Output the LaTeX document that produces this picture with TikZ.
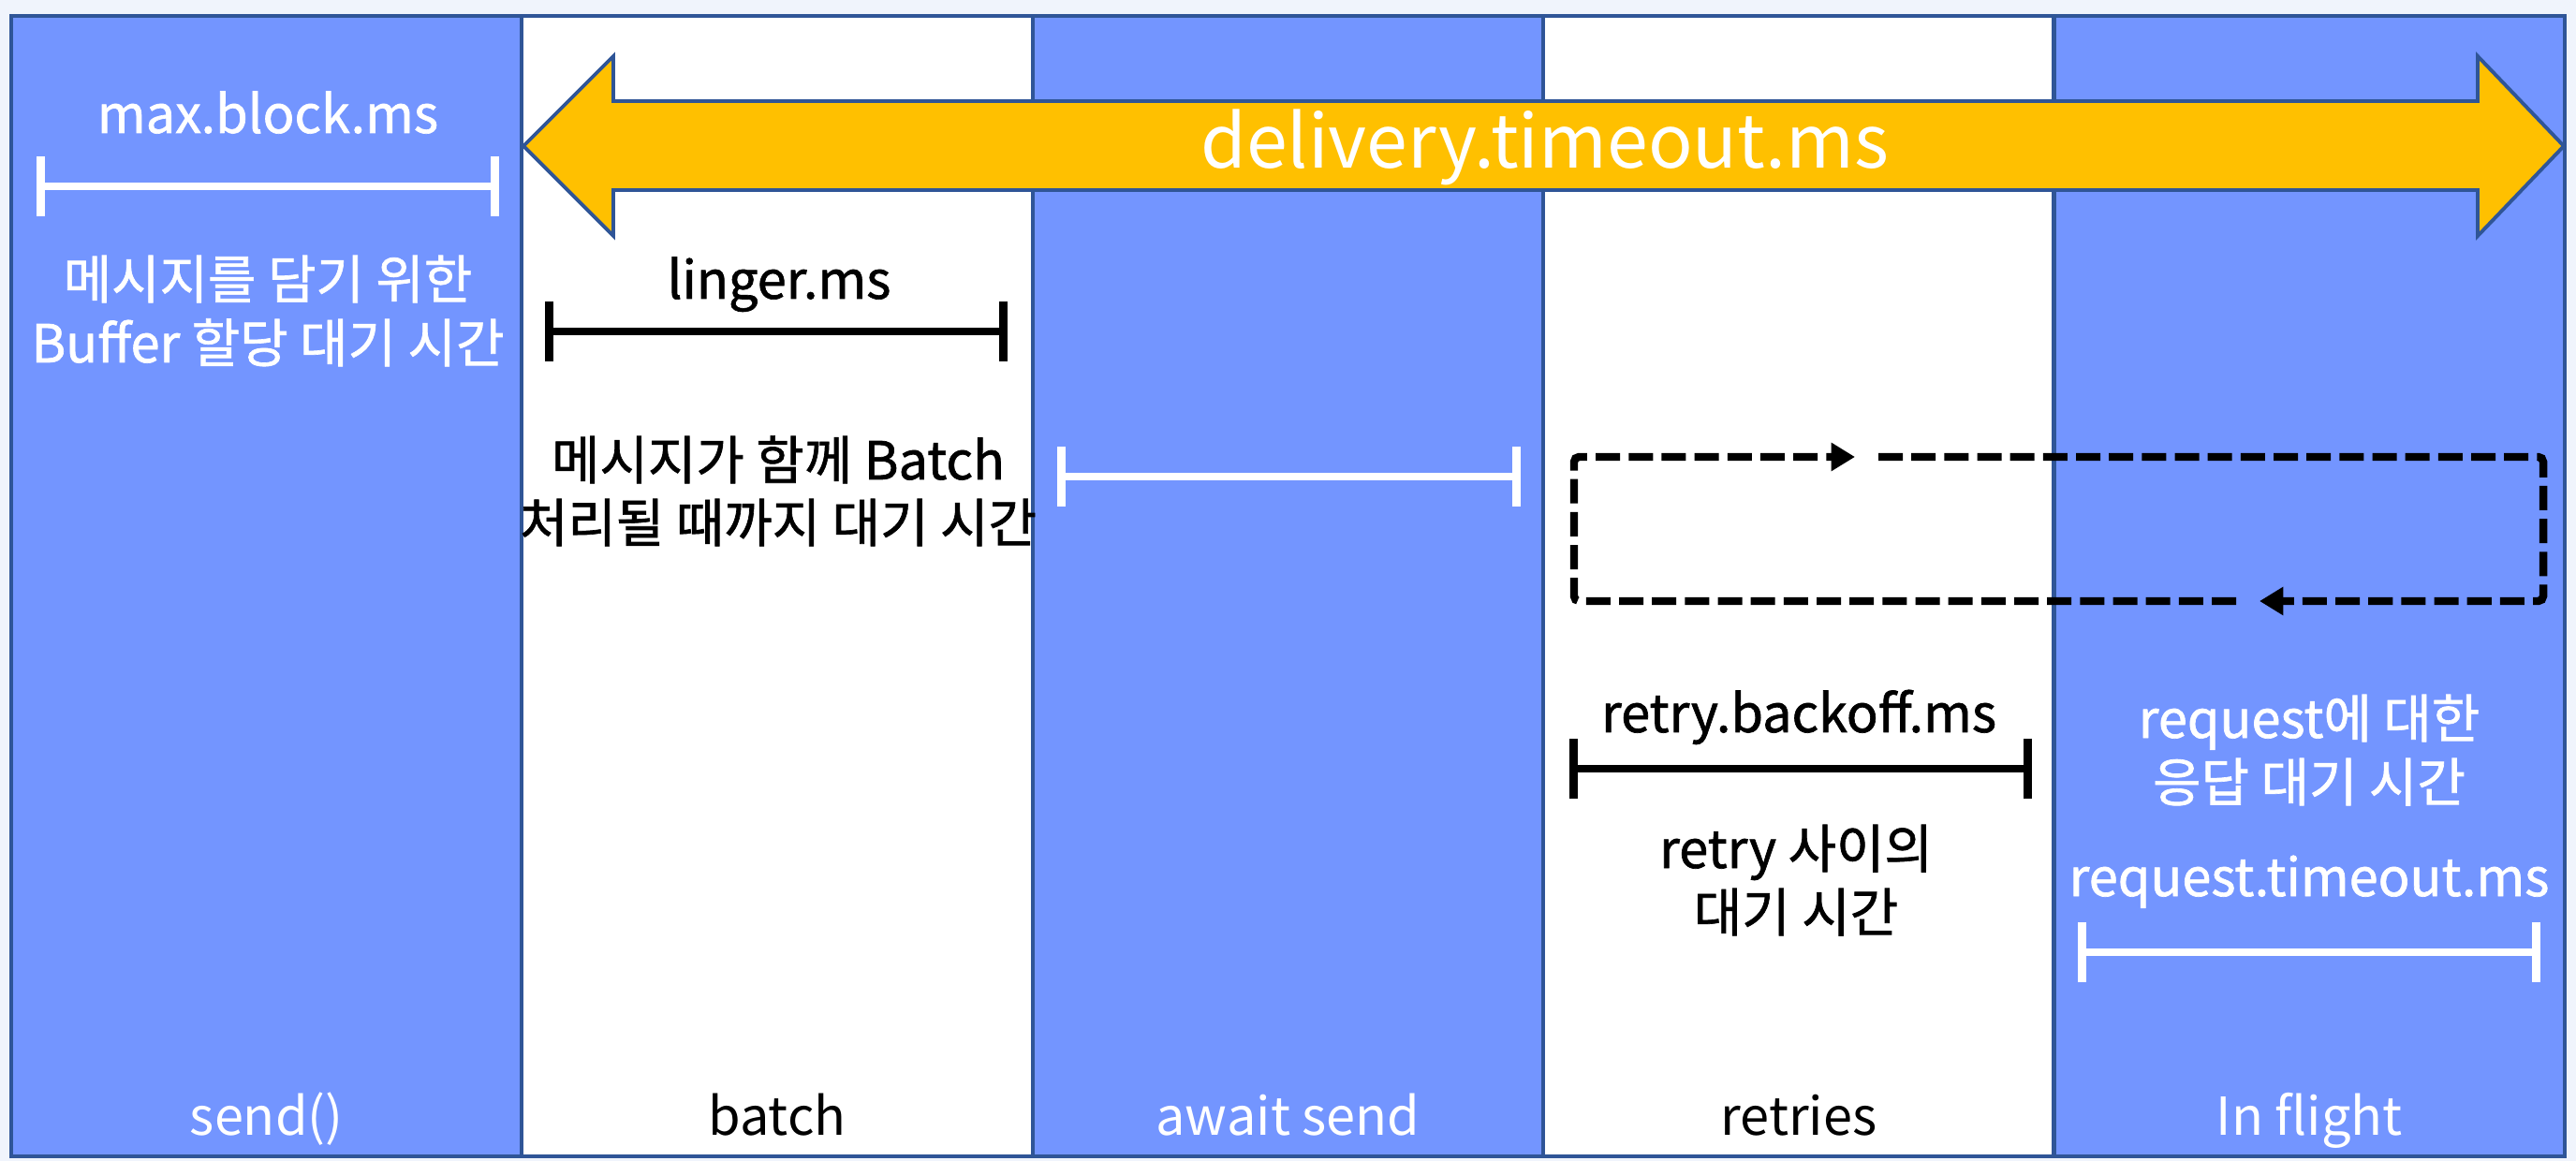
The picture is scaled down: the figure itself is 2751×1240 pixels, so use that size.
\documentclass[tikz,border=0pt]{standalone}
\usepackage{fontspec}
\setmainfont{Noto Sans CJK KR}
\newfontfamily\medfont[FakeBold=1.2]{Noto Sans CJK KR}
\usetikzlibrary{arrows.meta}
\definecolor{colblue}{HTML}{7395FF}
\definecolor{edge}{HTML}{2F5597}
\definecolor{gold}{HTML}{FFC000}
\definecolor{pagebg}{HTML}{F0F4FC}
\begin{document}
\begin{tikzpicture}[x=0.01cm,y=-0.01cm,
  colbox/.style={draw=edge, line width=1.2pt, inner sep=0pt, outer sep=0pt,
    minimum width=5.454cm, minimum height=12.18cm},
  lbl/.style={anchor=base, inner sep=0pt, font=\fontsize{15.9pt}{19pt}\selectfont},
  desc/.style={anchor=base, inner sep=0pt, font=\medfont\fontsize{15.9pt}{19pt}\selectfont},
  big/.style={anchor=base, inner sep=0pt, font=\fontsize{22.4pt}{26pt}\selectfont, text=white},
  dimbar/.style={line width=2.3pt, {Bar[width=18.2pt,line width=2.6pt]}-{Bar[width=18.2pt,line width=2.6pt]}},
  loopline/.style={line width=2.4pt, dash pattern=on 7.4pt off 2.6pt, rounded corners=1.5pt,
    -{Triangle[length=7.2pt,width=8.2pt]}}
]
% page background
\fill[pagebg] (0,0) rectangle (2751,1240);
\useasboundingbox (0,0) rectangle (2751,1240);

% columns
\node[colbox, fill=colblue] (c1) at (284.7,626) {};
\node[colbox, fill=white]   (c2) at (830.1,626) {};
\node[colbox, fill=colblue] (c3) at (1375.5,626) {};
\node[colbox, fill=white]   (c4) at (1920.9,626) {};
\node[colbox, fill=colblue] (c5) at (2466.3,626) {};

% column titles
\node[lbl, text=white] (t1) at (284.7,1212) {send()};
\node[lbl, text=black] (t2) at (830.1,1212) {batch};
\node[lbl, text=white] (t3) at (1375.5,1212) {await send};
\node[lbl, text=black] (t4) at (1920.9,1212) {retries};
\node[lbl, text=white] (t5) at (2466.3,1212) {In flight};

% delivery.timeout.ms double arrow
\draw[edge, line width=1.1pt, fill=gold, line join=miter]
  (559,156) -- (655,60) -- (655,108) -- (2646,108) -- (2646,60) -- (2738,156)
  -- (2646,252) -- (2646,203) -- (655,203) -- (655,252) -- cycle;
\node[big] (dt) at (1650,180) {delivery.timeout.ms};

% send(): max.block.ms
\node[desc, text=white] (mb) at (286,142) {max.block.ms};
\coordinate (mbL) at (39,199);
\coordinate (mbR) at (533,199);
\draw[dimbar, white] (mbL) -- (mbR);
\node[desc, text=white] (mbd1) at (286,319) {메시지를 담기 위한};
\node[desc, text=white] (mbd2) at (286,387) {Buffer 할당 대기 시간};

% batch: linger.ms
\node[desc, text=black] (lg) at (832,319) {linger.ms};
\coordinate (lgL) at (582,354);
\coordinate (lgR) at (1076,354);
\draw[dimbar, black] (lgL) -- (lgR);
\node[desc, text=black] (lgd1) at (831,512) {메시지가 함께 Batch};
\node[desc, text=black] (lgd2) at (831,579) {처리될 때까지 대기 시간};

% await send
\coordinate (awL) at (1129,509);
\coordinate (awR) at (1624,509);
\draw[dimbar, white] (awL) -- (awR);

% retry loop
\coordinate (la) at (2388,642);
\coordinate (lb) at (1681,642);
\coordinate (lc) at (1681,488);
\coordinate (ld) at (1981,488);
\coordinate (le) at (2006,488);
\coordinate (lf) at (2716,488);
\coordinate (lg2) at (2716,642);
\coordinate (lh) at (2413,642);
\draw[loopline] (la) -- (lb) -- (lc) -- (ld);
\draw[loopline] (le) -- (lf) -- (lg2) -- (lh);

% retries: retry.backoff.ms
\node[desc, text=black] (rb) at (1921,782) {retry.backoff.ms};
\coordinate (rbL) at (1676,821);
\coordinate (rbR) at (2170,821);
\draw[dimbar, black] (rbL) -- (rbR);
\node[desc, text=black] (rbd1) at (1918,927) {retry 사이의};
\node[desc, text=black] (rbd2) at (1918,995) {대기 시간};

% in flight: request.timeout.ms
\node[desc, text=white] (rqd1) at (2466,788) {request에 대한};
\node[desc, text=white] (rqd2) at (2466,856) {응답 대기 시간};
\node[desc, text=white] (rq) at (2466,957) {request.timeout.ms};
\coordinate (rqL) at (2219,1017);
\coordinate (rqR) at (2713,1017);
\draw[dimbar, white] (rqL) -- (rqR);
\end{tikzpicture}
\end{document}
